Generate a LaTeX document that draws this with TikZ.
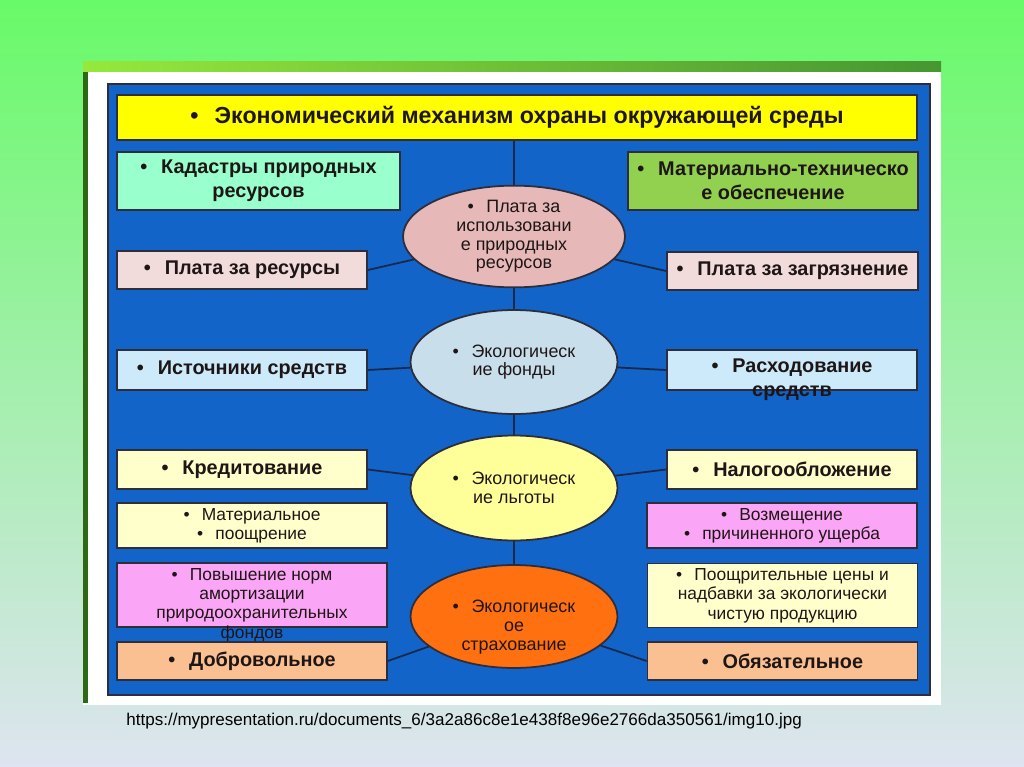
\documentclass[tikz,border=0pt]{standalone}
\usepackage{fontspec}
\setmainfont{Liberation Sans}
\usepackage{tikz}
\usetikzlibrary{shapes.geometric, positioning}

\definecolor{bgtop}{RGB}{104,250,104}
\definecolor{bgmid}{RGB}{172,236,182}
\definecolor{bgbot}{RGB}{222,228,240}
\definecolor{stripl}{RGB}{150,232,60}
\definecolor{stripr}{RGB}{70,150,50}
\definecolor{barcol}{RGB}{45,105,20}
\definecolor{frameblue}{RGB}{18,100,200}
\definecolor{bordercolor}{RGB}{45,45,60}
\definecolor{linkcol}{RGB}{25,40,75}
\definecolor{inkcol}{RGB}{30,22,22}
\definecolor{titleyellow}{RGB}{255,255,0}
\definecolor{aquagreen}{RGB}{153,255,204}
\definecolor{grassgreen}{RGB}{146,208,80}
\definecolor{palepink}{RGB}{242,220,219}
\definecolor{paleblue}{RGB}{204,234,250}
\definecolor{paleyellow}{RGB}{255,255,204}
\definecolor{brightpink}{RGB}{250,165,245}
\definecolor{peach}{RGB}{250,192,145}
\definecolor{ellpink}{RGB}{230,185,184}
\definecolor{ellblue}{RGB}{200,222,234}
\definecolor{ellyellow}{RGB}{255,255,153}
\definecolor{ellorange}{RGB}{255,112,16}

\newcommand{\blt}{\textbullet\hspace{0.7em}}

\tikzset{
  base/.style     = {draw=bordercolor, line width=1pt, align=center,
                     text=inkcol, inner sep=1pt},
  bigbox/.style   = {base, font=\bfseries\fontsize{11.3}{13.6}\selectfont},
  smallbox/.style = {base, font=\fontsize{9.9}{11}\selectfont},
  txt/.style      = {align=center, text=inkcol, inner sep=0pt},
  ell/.style      = {base, ellipse, inner sep=0pt,
                     font=\fontsize{10.2}{10.6}\selectfont},
  link/.style     = {draw=linkcol, line width=1pt},
}

\begin{document}
\begin{tikzpicture}[x=0.02cm, y=-0.02cm]
  \useasboundingbox (0,0) rectangle (1024,767);
  % backdrop and slide frame
  \shade[top color=bgtop, middle color=bgmid, bottom color=bgbot] (0,0) rectangle (1024,767);
  \fill[white] (83,62) rectangle (941,705);
  \shade[left color=stripl, right color=stripr] (83,62) rectangle (941,72);
  \fill[barcol] (83,72) rectangle (88,703);
  \draw[bordercolor, line width=1.2pt, fill=frameblue] (108,84) rectangle (930,695);

  \node[bigbox, fill=titleyellow, minimum width=16cm, minimum height=0.9cm,
        font=\bfseries\fontsize{13.2}{15}\selectfont] (title) at (517,117.5)
        {\blt Экономический механизм охраны окружающей среды};

  % left column
  \node[bigbox, fill=aquagreen, minimum width=5.66cm, minimum height=1.16cm] (kadastr) at (258.5,181)
        {\blt Кадастры природных\\ресурсов};
  \node[bigbox, fill=palepink, minimum width=5cm, minimum height=0.76cm] (platares) at (242,270)
        {\blt Плата за ресурсы};
  \node[bigbox, fill=paleblue, minimum width=5cm, minimum height=0.8cm] (istochn) at (242,370)
        {\blt Источники средств};
  \node[bigbox, fill=paleyellow, minimum width=5cm, minimum height=0.78cm] (kredit) at (242,469.5)
        {\blt Кредитование};
  \node[smallbox, fill=paleyellow, minimum width=5.4cm, minimum height=0.9cm] (material) at (252,525.5)
        {\blt Материальное\\\blt поощрение};
  \node[base, fill=brightpink, minimum width=5.4cm, minimum height=1.28cm] (amort) at (252,595) {};
  \node[txt, font=\fontsize{9.9}{11}\selectfont] (amortt) at (252,605)
        {\blt Повышение норм\\амортизации\\природоохранительных\\фондов};
  \node[bigbox, fill=peach, minimum width=5.4cm, minimum height=0.76cm] (dobrov) at (252,661)
        {\blt Добровольное};

  % right column
  \node[bigbox, fill=grassgreen, minimum width=5.8cm, minimum height=1.16cm] (mattech) at (773,181)
        {\blt Материально-техническо\\е обеспечение};
  \node[bigbox, fill=palepink, minimum width=5.02cm, minimum height=0.76cm] (platazagr) at (792.5,271)
        {\blt Плата за загрязнение};
  \node[base, fill=paleblue, minimum width=5cm, minimum height=0.8cm] (rashod) at (792,370) {};
  \node[txt, font=\bfseries\fontsize{11.3}{13.6}\selectfont] (rashodt) at (792,380)
        {\blt Расходование\\средств};
  \node[bigbox, fill=paleyellow, minimum width=5cm, minimum height=0.78cm] (nalog) at (792,469.5)
        {\blt Налогообложение};
  \node[smallbox, fill=brightpink, minimum width=5.4cm, minimum height=0.9cm] (vozmesch) at (782,525.5)
        {\blt Возмещение\\\blt причиненного ущерба};
  \node[smallbox, fill=paleyellow, minimum width=5.4cm, minimum height=1.28cm] (poosch) at (782.5,595.5)
        {\blt Поощрительные цены и\\надбавки за экологически\\чистую продукцию};
  \node[bigbox, fill=peach, minimum width=5.4cm, minimum height=0.76cm] (obyaz) at (782.5,661)
        {\blt Обязательное};

  % central ellipses
  \node[ell, fill=ellpink, minimum width=4.44cm, minimum height=2.02cm] (eplata) at (514,236.5)
        {\blt Плата за\\использовани\\е природных\\ресурсов};
  \node[ell, fill=ellblue, minimum width=4.14cm, minimum height=2.08cm] (efond) at (514,362)
        {\blt Экологическ\\ие фонды};
  \node[ell, fill=ellyellow, minimum width=4.14cm, minimum height=2.1cm] (elgot) at (514,488)
        {\blt Экологическ\\ие льготы};
  \node[ell, fill=ellorange, minimum width=4.14cm, minimum height=2.06cm] (estrah) at (514,616.5) {};
  \node[txt, font=\fontsize{10.2}{10.6}\selectfont] (estraht) at (514,627)
        {\blt Экологическ\\ое\\страхование};

  % connectors
  \draw[link] (title.south -| eplata) -- (eplata);
  \draw[link] (eplata) -- (efond);
  \draw[link] (efond) -- (elgot);
  \draw[link] (elgot) -- (estrah);
  \draw[link] (platares.east) -- (eplata);
  \draw[link] (eplata) -- (platazagr.west);
  \draw[link] (istochn.east) -- (efond);
  \draw[link] (efond) -- (rashod.west);
  \draw[link] (kredit.east) -- (elgot);
  \draw[link] (elgot) -- (nalog.west);
  \draw[link] (dobrov.east) -- (estrah);
  \draw[link] (estrah) -- (obyaz.west);

  \node[anchor=west, inner sep=0pt, font=\fontsize{9.7}{11}\selectfont] (srcurl) at (126,721)
        {https://mypresentation.ru/documents\_6/3a2a86c8e1e438f8e96e2766da350561/img10.jpg};
\end{tikzpicture}
\end{document}
